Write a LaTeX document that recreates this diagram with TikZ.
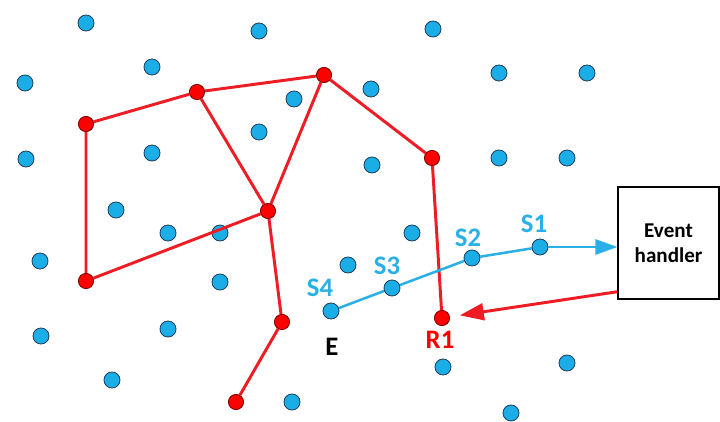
\documentclass[tikz,border=0pt]{standalone}
\usepackage{fontspec}
\setmainfont{Carlito}
\usetikzlibrary{arrows.meta,positioning}
\pgfdeclarelayer{bg}\pgfdeclarelayer{mid}
\pgfsetlayers{bg,mid,main}
\definecolor{dotBlue}{HTML}{1BAEE6}
\definecolor{dotEdge}{HTML}{1F4060}
\definecolor{pathBlue}{HTML}{2AB0E6}
\definecolor{nodeRed}{HTML}{FF0000}
\definecolor{redEdge}{HTML}{7A0000}
\definecolor{lineRed}{HTML}{EE1C24}

\begin{document}
\begin{tikzpicture}[x=0.025cm, y=-0.025cm, font=\bfseries,
  sensor/.style={circle, fill=dotBlue, draw=dotEdge, line width=0.6pt, minimum size=0.4cm, inner sep=0pt},
  hop/.style={circle, fill=nodeRed, draw=redEdge, line width=0.6pt, minimum size=0.38cm, inner sep=0pt},
  link/.style={draw=lineRed, line width=2.1pt},
  trail/.style={draw=pathBlue, line width=1.8pt},
  tag/.style={font=\fontsize{19}{19}\selectfont\bfseries, inner sep=0pt},
]
\useasboundingbox (0,0) rectangle (720,421);
% ---- idle sensors ----
\begin{pgfonlayer}{bg}
\foreach \px/\py [count=\k] in {86/23, 259/31, 433/29, 152/67, 25/83, 499/73, 587/73, 371/89,
    294/99, 259/132, 152/153, 26/159, 372/165, 499/158, 567/158, 116/210, 168/233, 220/233,
    412/233, 40/261, 348/265, 220/282, 41/336, 168/329, 112/380, 292/402, 443/367, 567/363, 511/413}
  \node[sensor] (d\k) at (\px,\py) {};
\end{pgfonlayer}
% ---- routing tree ----
\node[hop] (r1) at (86,124) {};
\node[hop] (r2) at (197,92) {};
\node[hop] (r3) at (324,75) {};
\node[hop] (r4) at (432,158) {};
\node[hop] (r5) at (268,211) {};
\node[hop] (r6) at (86,281) {};
\node[hop] (r7) at (282,322) {};
\node[hop] (r8) at (236,402) {};
\node[hop] (rR) at (442,318) {};
% ---- event trail ----
\node[sensor] (s4) at (331,311) {};
\node[sensor] (s3) at (392,288) {};
\node[sensor] (s2) at (472,258) {};
\node[sensor] (s1) at (540,247) {};
% ---- handler ----
\node[draw, line width=1pt, minimum width=2.52cm, minimum height=2.8cm, align=center,
  font=\fontsize{15}{18}\selectfont\bfseries] (hnd) at (668.5,243) {Event\\handler};
\begin{pgfonlayer}{mid}
\draw[link] (r1) -- (r2) -- (r3) -- (r4) -- (rR);
\draw[link] (r2) -- (r5) -- (r3);
\draw[link] (r1) -- (r6) -- (r5) -- (r7) -- (r8);
\draw[trail] (s4) -- (s3) -- (s2) -- (s1);
\end{pgfonlayer}
\draw[trail, -{Triangle[length=5.5mm,width=3.8mm]}] (s1) -- (s1 -| hnd.west);
\draw[link, -{Triangle[length=6mm,width=4.2mm]}, shorten >=0.25cm] ([yshift=2mm]hnd.south west) -- (rR);
% labels
\node[tag, text=pathBlue] (l1) at (534,224) {S1};
\node[tag, text=pathBlue] (l2) at (468,238) {S2};
\node[tag, text=pathBlue] (l3) at (387,266) {S3};
\node[tag, text=pathBlue] (l4) at (320,288) {S4};
\node[tag, text=black] (lE) at (332,347) {E};
\node[tag, text=nodeRed] (lR) at (440,340) {R1};
\end{tikzpicture}
\end{document}
